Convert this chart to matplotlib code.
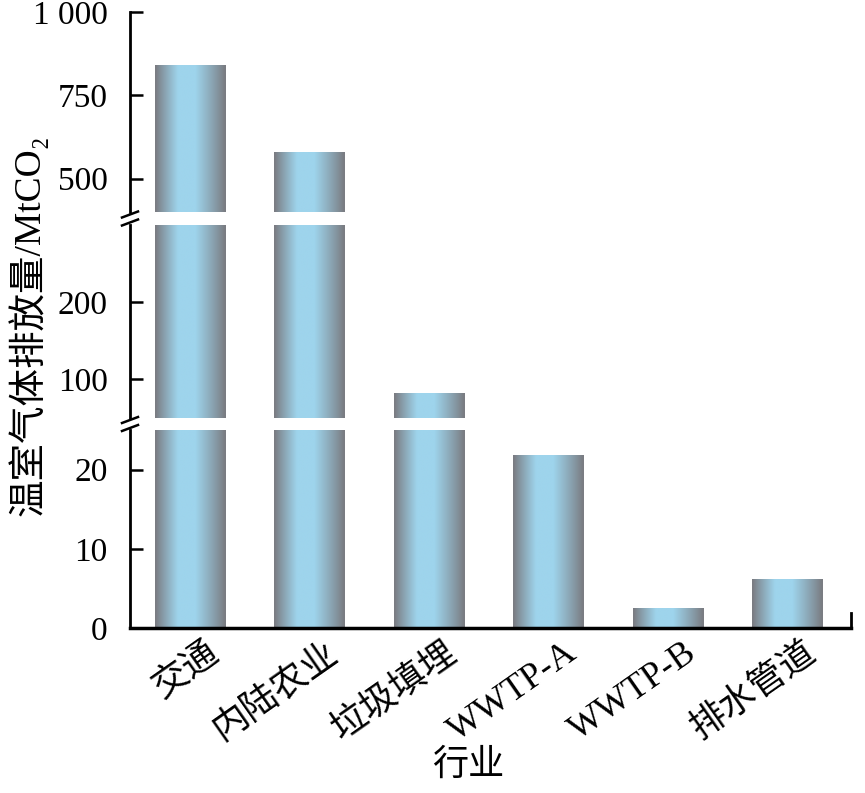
import numpy as np
import matplotlib
matplotlib.use("Agg")
import matplotlib.pyplot as plt
from matplotlib.lines import Line2D
import matplotlib.transforms as mtransforms

plt.rcParams['font.family'] = ['Liberation Serif', 'Noto Sans CJK SC', 'DejaVu Serif']

categories = ['交通', '内陆农业', '垃圾填埋', 'WWTP-A', 'WWTP-B', '排水管道']
values = [840, 581, 83, 21.8, 2.5, 6.2]

seg_limits = [(0, 25), (50, 300), (400, 1000)]
seg_ticks = [[0, 10, 20], [100, 200], [500, 750, 1000]]
seg_ticklabels = [['0', '10', '20'], ['100', '200'], ['500', '750', '1 000']]

W, H = 865, 793
fig = plt.figure(figsize=(W / 100, H / 100), dpi=100)

seg_px = [(430, 628), (225, 418), (12, 212)]
x0_px, x1_px = 130, 851

# gradient: grey at edges, light blue peaking slightly left of centre
n = 256
t = np.linspace(0, 1, n)
grey = np.array([122, 124, 130]) / 255
blue = np.array([158, 212, 236]) / 255
peak = 0.43
s = np.where(t < peak, t / peak, (1 - t) / (1 - peak))
w = np.clip(s, 0, 1) ** 0.9
w = np.clip(1.35 * w - 0.05, 0, 1)
grad = grey[None, :] * (1 - w[:, None]) + blue[None, :] * w[:, None]
grad_img = grad[None, :, :]

x = np.arange(len(categories))
bw = 0.59
axes = []
for (lo, hi), ticks, tl, (top_px, bot_px) in zip(seg_limits, seg_ticks, seg_ticklabels, seg_px):
    ax = fig.add_axes([x0_px / W, (H - bot_px) / H, (x1_px - x0_px) / W, (bot_px - top_px) / H])
    bars = ax.bar(x, np.minimum(values, hi) - lo, bottom=lo, width=bw,
                  color='none', edgecolor='none')
    for b, v in zip(bars, values):
        if v <= lo:
            b.set_visible(False)
            continue
        top = min(v, hi)
        im = ax.imshow(grad_img, extent=[b.get_x(), b.get_x() + b.get_width(), lo, top],
                       aspect='auto', interpolation='bilinear', zorder=2)
        im.set_clip_path(b)
    ax.set_xlim(-0.5, len(categories) - 0.5 + 0.03)
    ax.set_ylim(lo, hi)
    ax.set_yticks(ticks)
    ax.set_yticklabels(tl)
    ax.tick_params(axis='y', direction='in', length=9, width=1.8, labelsize=24, pad=16)
    for sp in ['top', 'right']:
        ax.spines[sp].set_visible(False)
    ax.spines['left'].set_linewidth(2)
    if lo == 0:
        ax.spines['bottom'].set_linewidth(2.5)
        ax.set_xticks(x)
        ax.set_xticklabels(categories, rotation=35, ha='right', va='top',
                           rotation_mode='anchor', fontsize=26)
        ax.tick_params(axis='x', length=0, pad=6)
    else:
        ax.spines['bottom'].set_visible(False)
        ax.set_xticks([])
    axes.append(ax)

offset = mtransforms.ScaledTranslation(0.16, 0.0, fig.dpi_scale_trans)
for lab in axes[0].get_xticklabels():
    lab.set_transform(lab.get_transform() + offset)

# x-axis title
fig.text(468 / W, (H - 766) / H, '行业', ha='center', va='center', fontsize=26)

# right end mark of x-axis
fig.add_artist(Line2D([x1_px / W, x1_px / W], [(H - 628) / H, (H - 613) / H],
                      transform=fig.transFigure, color='black', lw=2))

# axis breaks
for ycen in [424, 218.5]:
    for dy in [-4, 4]:
        yc = ycen + dy
        fig.add_artist(Line2D([(x0_px - 8) / W, (x0_px + 8) / W],
                              [(H - (yc + 3)) / H, (H - (yc - 3)) / H],
                              transform=fig.transFigure, color='black', lw=1.8))

fig.text(28 / W, (H - 325) / H, '温室气体排放量/MtCO₂', rotation=90,
         ha='center', va='center', fontsize=27)

fig.savefig('out.png', dpi=100)
